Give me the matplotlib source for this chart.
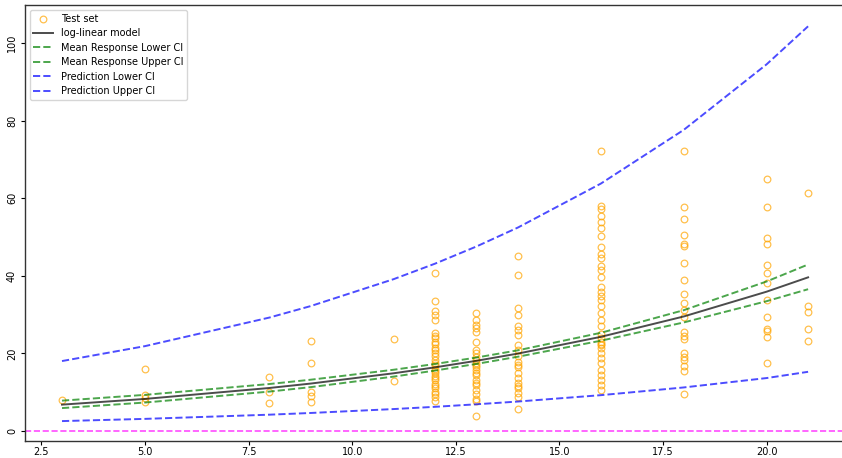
import numpy as np
import matplotlib
matplotlib.use("Agg")
import matplotlib.pyplot as plt

# Observed test-set responses, grouped by predictor value
test_groups_x = [3, 5, 8, 9, 11, 12, 13, 14, 16, 18, 20, 21]
test_groups_y = [
    [8.0],
    [16.0, 9.3, 8.5, 7.6],
    [13.9, 10.0, 7.3],
    [23.3, 17.5, 10.1, 9.0, 7.4],
    [23.6, 12.9],
    [40.7, 33.6, 30.9, 29.8, 28.6, 25.3, 24.6, 23.9, 23.0, 22.3, 21.5, 21.0,
     20.0, 19.3, 18.3, 17.6, 17.0, 16.1, 15.5, 15.0, 14.2, 13.6, 13.1, 12.1,
     11.6, 11.0, 10.1, 9.5, 8.8, 7.8],
    [30.5, 28.6, 27.4, 26.6, 25.6, 23.0, 21.0, 20.2, 19.1, 18.3, 17.6, 17.0,
     16.4, 15.7, 15.0, 14.4, 13.1, 12.4, 11.8, 10.6, 9.5, 8.2, 7.8, 3.9],
    [45.0, 40.1, 31.6, 29.9, 27.0, 26.0, 24.7, 22.1, 20.8, 19.3, 17.8, 17.1,
     16.4, 15.0, 13.6, 12.3, 11.6, 11.0, 9.9, 8.8, 5.8],
    [72.1, 58.0, 57.1, 55.4, 53.9, 52.2, 50.2, 47.3, 45.7, 44.7, 42.5, 41.4,
     39.7, 37.1, 35.9, 34.7, 33.7, 32.2, 30.3, 28.6, 27.0, 25.1, 23.9, 23.0,
     22.5, 22.1, 21.3, 20.0, 18.7, 17.4, 15.7, 14.4, 13.1, 11.8, 10.6],
    [72.1, 57.7, 54.7, 50.4, 48.3, 47.6, 43.3, 38.9, 35.2, 33.0, 31.1, 29.4,
     25.6, 24.5, 23.6, 20.2, 19.1, 18.3, 16.7, 15.5, 9.5],
    [64.9, 57.7, 49.8, 48.1, 42.7, 40.8, 38.2, 33.7, 29.4, 26.2, 25.8, 24.1,
     17.4],
    [61.4, 32.2, 30.7, 26.2, 23.2],
]

# Fitted log-linear model and its intervals at the distinct predictor values
fit_x = [3, 5, 8, 9, 11, 12, 13, 14, 16, 18, 20, 21]
fit_y = [6.80, 8.27, 11.09, 12.23, 14.88, 16.41, 18.10, 19.96, 24.27, 29.52, 35.91, 39.60]
mean_lower = [5.91, 7.34, 10.16, 11.31, 14.02, 15.58, 17.30, 19.15, 23.27, 27.98, 33.46, 36.54]
mean_upper = [7.83, 9.32, 12.11, 13.22, 15.79, 17.28, 18.94, 20.80, 25.31, 31.14, 38.54, 42.91]
pred_lower = [2.56, 3.13, 4.21, 4.65, 5.66, 6.24, 6.89, 7.60, 9.24, 11.23, 13.65, 15.26]
pred_upper = [18.03, 21.87, 29.23, 32.20, 39.13, 43.13, 47.56, 52.44, 63.76, 77.60, 94.50, 104.29]

x_ticks = [2.5, 5.0, 7.5, 10.0, 12.5, 15.0, 17.5, 20.0]
y_ticks = [0, 20, 40, 60, 80, 100]

test_x = np.concatenate([[x] * len(ys) for x, ys in zip(test_groups_x, test_groups_y)])
test_y = np.concatenate(test_groups_y)

fig = plt.figure(figsize=(8.42, 4.58), dpi=100)
ax = fig.add_axes([24.7 / 842, 17 / 458, 820.7 / 842, 435.7 / 458])

ax.plot(test_x, test_y, "o", color="orange", mfc="none", ms=4.8, mew=0.9,
        alpha=0.7, label="Test set")
ax.plot(fit_x, fit_y, "-", color="k", lw=1.4, alpha=0.7, label="log-linear model")
ax.plot(fit_x, mean_lower, "--", color="g", lw=1.4, alpha=0.7, label="Mean Response Lower CI")
ax.plot(fit_x, mean_upper, "--", color="g", lw=1.4, alpha=0.7, label="Mean Response Upper CI")
ax.plot(fit_x, pred_lower, "--", color="b", lw=1.4, alpha=0.7, label="Prediction Lower CI")
ax.plot(fit_x, pred_upper, "--", color="b", lw=1.4, alpha=0.7, label="Prediction Upper CI")
ax.axhline(0, color="magenta", ls="--", lw=1.2, alpha=0.7)

ax.set_xlim(2.1, 21.9)
ax.set_ylim(-2.57, 109.7)
ax.set_xticks(x_ticks)
ax.set_yticks(y_ticks)
ax.tick_params(labelsize=7, length=3, width=0.8)
ax.tick_params(axis="x", pad=1.5)
ax.tick_params(axis="y", pad=2.5)
for lbl in ax.get_yticklabels():
    lbl.set_rotation(90)
    lbl.set_va("center")
for sp in ax.spines.values():
    sp.set_linewidth(1.0)
    sp.set_color("#333333")

ax.legend(loc="upper left", fontsize=7, labelspacing=0.45, borderpad=0.4,
          handlelength=2.0, framealpha=0.8)

fig.savefig("out.png", dpi=100)
